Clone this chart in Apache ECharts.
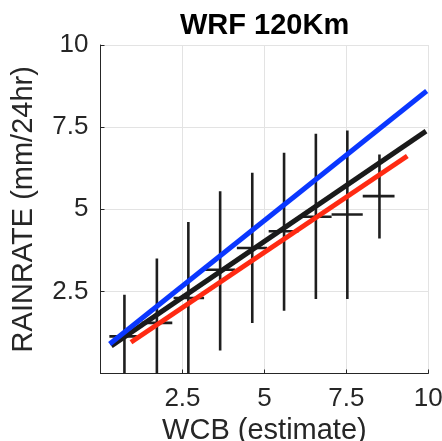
<!DOCTYPE html>
<html>
<head>
<meta charset="utf-8">
<script src="https://cdn.jsdelivr.net/npm/echarts@6/dist/echarts.min.js"></script>
<style>
  html, body { margin: 0; padding: 0; background: #fff; overflow: hidden; }
  #chart { width: 442px; height: 441px; }
</style>
</head>
<body>
<div id="chart"></div>
<script>
// Binned WCB estimate vs. model rain rate: bin centres, bin edges, means and spread
const binCenters = [0.73, 1.72, 2.68, 3.65, 4.63, 5.60, 6.57, 7.53, 8.51];
const binLows    = [0.27, 1.26, 2.23, 3.19, 4.16, 5.13, 6.11, 7.05, 8.00];
const binHighs   = [1.11, 2.19, 3.16, 4.11, 5.08, 6.04, 7.05, 8.00, 8.97];
const rainMeans  = [1.13, 1.54, 2.30, 3.16, 3.82, 4.33, 4.77, 4.84, 5.40];
const rainLows   = [0.00, 0.00, 0.00, 0.70, 1.54, 1.91, 2.27, 2.27, 4.11];
const rainHighs  = [2.40, 3.50, 4.61, 5.55, 6.11, 6.72, 7.30, 7.40, 6.67];

// Fitted lines (end points in data units)
const fitBlack = [[0.33, 0.84], [9.93, 7.38]];
const fitBlue  = [[0.28, 0.90], [9.95, 8.60]];
const fitRed   = [[0.93, 0.95], [9.36, 6.62]];

// Axis ticks
const xTicks = [2.5, 5, 7.5, 10];
const yTicks = [2.5, 5, 7.5, 10];

const errData = binCenters.map((x, i) => [x, rainMeans[i], rainLows[i], rainHighs[i], binLows[i], binHighs[i]]);

const font = '"Liberation Sans", Arial, Helvetica, sans-serif';
const axisColor = '#262626';

const chart = echarts.init(document.getElementById('chart'), null, { renderer: 'canvas' });

const axisCommon = {
  type: 'value',
  min: 0,
  max: 10,
  interval: 2.5,
  axisLine: { show: true, lineStyle: { color: axisColor, width: 1 } },
  axisTick: { show: true, inside: true, length: 4, lineStyle: { color: axisColor, width: 1 } },
  splitLine: { show: true, lineStyle: { color: '#e3e3e3', width: 1 } },
  nameLocation: 'middle',
  nameTextStyle: { fontFamily: font, fontSize: 29, color: '#262626' }
};

chart.setOption({
  animation: false,
  backgroundColor: '#ffffff',
  title: {
    text: 'WRF 120Km',
    left: 175,
    top: 6,
    textStyle: { fontFamily: font, fontSize: 29, fontWeight: 'bold', color: '#000' }
  },
  grid: {
    left: 100.5, right: 13.7, top: 45, bottom: 67.5,
    containLabel: false,
    outerBoundsMode: 'none'
  },
  xAxis: Object.assign({}, axisCommon, {
    name: 'WCB (estimate)',
    nameGap: 37,
    axisLabel: {
      fontFamily: font, fontSize: 26, color: '#262626', margin: 12,
      formatter: v => (xTicks.includes(v) ? String(v) : '')
    }
  }),
  yAxis: Object.assign({}, axisCommon, {
    name: 'RAINRATE (mm/24hr)',
    nameGap: 62,
    nameRotate: 90,
    axisLabel: {
      fontFamily: font, fontSize: 26, color: '#262626', margin: 12,
      formatter: v => (yTicks.includes(v) ? String(v) : '')
    }
  }),
  series: [
    {
      type: 'custom',
      clip: true,
      z: 2,
      data: errData,
      renderItem: function (params, api) {
        const x = api.value(0), m = api.value(1), lo = api.value(2), hi = api.value(3);
        const xl = api.value(4), xh = api.value(5);
        const pTop = api.coord([x, hi]);
        const pBot = api.coord([x, lo]);
        const pL = api.coord([xl, m]);
        const pR = api.coord([xh, m]);
        const style = { stroke: '#1e1e1e', lineWidth: 2.6 };
        return {
          type: 'group',
          children: [
            { type: 'line', shape: { x1: pTop[0], y1: pTop[1], x2: pBot[0], y2: pBot[1] }, style: style },
            { type: 'line', shape: { x1: pL[0], y1: pL[1], x2: pR[0], y2: pR[1] }, style: style }
          ]
        };
      }
    },
    {
      type: 'line', data: fitBlack, symbol: 'none', z: 3,
      lineStyle: { color: '#1a1a1a', width: 5 }
    },
    {
      type: 'line', data: fitBlue, symbol: 'none', z: 4,
      lineStyle: { color: '#0a37ff', width: 5 }
    },
    {
      type: 'line', data: fitRed, symbol: 'none', z: 5,
      lineStyle: { color: '#ff2a12', width: 5 }
    }
  ]
});
</script>
</body>
</html>
